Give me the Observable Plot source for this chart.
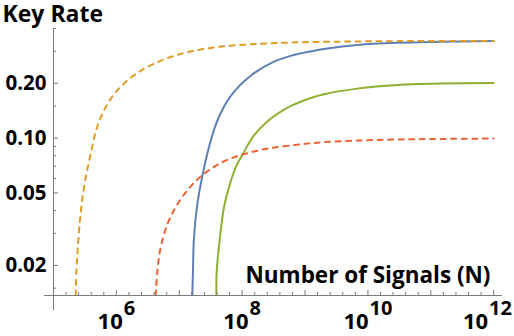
<!DOCTYPE html>
<html><head><meta charset="utf-8">
<script src="https://cdn.jsdelivr.net/npm/d3@7"></script>
<script src="https://cdn.jsdelivr.net/npm/@observablehq/plot@0.6"></script>
<style>body{margin:0;background:#fff}</style>
</head><body><div id="chart"></div>
<script>
// ---- data (log10 of number of signals, key rate) ----
const blueLogN   = [7.208, 7.218, 7.234, 7.288, 7.367, 7.472, 7.606, 7.817, 8.135, 8.506, 8.77, 8.93, 9.30, 9.83, 10.47, 11.16, 12.0];
const blueRate   = [0.0137, 0.0187, 0.0285, 0.0435, 0.0620, 0.089, 0.125, 0.170, 0.220, 0.263, 0.283, 0.292, 0.309, 0.325, 0.334, 0.338, 0.341];
const orangeLogN = [5.353, 5.364, 5.38, 5.42, 5.485, 5.591, 5.723, 5.962, 6.334, 6.863, 7.499, 8.294, 8.77, 9.6, 10.5, 12.0];
const orangeRate = [0.0137, 0.0187, 0.0231, 0.0352, 0.0537, 0.0818, 0.123, 0.174, 0.228, 0.279, 0.313, 0.330, 0.335, 0.339, 0.341, 0.342];
const greenLogN  = [7.59, 7.596, 7.647, 7.711, 7.790, 7.897, 8.003, 8.188, 8.40, 8.665, 8.77, 8.93, 9.30, 9.83, 10.47, 11.16, 12.0];
const greenRate  = [0.0137, 0.0187, 0.0285, 0.0417, 0.0537, 0.0691, 0.0810, 0.1035, 0.1235, 0.1435, 0.150, 0.1585, 0.174, 0.1870, 0.196, 0.1993, 0.201];
const redLogN    = [6.625, 6.652, 6.704, 6.811, 6.943, 7.102, 7.340, 7.658, 8.003, 8.40, 8.93, 9.30, 9.83, 10.47, 11.16, 12.0];
const redRate    = [0.0137, 0.0187, 0.0251, 0.0337, 0.0417, 0.0504, 0.0615, 0.0730, 0.0812, 0.0875, 0.0925, 0.0950, 0.0970, 0.0983, 0.0990, 0.0995];

const yMajorTicks = [0.02, 0.05, 0.1, 0.2];
const yMinorTicks = [0.015, 0.03, 0.04, 0.06, 0.07, 0.08, 0.09, 0.15, 0.3, 0.4];
const xMajorExponents = [6, 7, 8, 9, 10, 11, 12];
const xLabelExponents = [6, 8, 10, 12];
const xMinorSteps = [0.2, 0.4, 0.6, 0.8];

const yTitle = "Key Rate";
const xTitle = "Number of Signals (N)";

// ---- build ----
const W = 514, H = 336;
const axisColor = "#7a7a7a";
const font = "'Open Sans', Lato, sans-serif";
const yDomain = [0.01367, 0.4];
const xDomain = [1e5, 10 ** 12.14];

const series = [
  {name: "blue", logN: blueLogN, rate: blueRate, color: "#5E81B5", dash: null},
  {name: "green", logN: greenLogN, rate: greenRate, color: "#8FB032", dash: null},
  {name: "red", logN: redLogN, rate: redRate, color: "#EB6235", dash: "5,5.5"},
  {name: "orange", logN: orangeLogN, rate: orangeRate, color: "#E19C24", dash: "5,5.5"}
];

const xMajor = xMajorExponents.map(e => 10 ** e);
const xLabels = xLabelExponents.map(e => 10 ** e);
const xMinor = [];
for (let k = 5; k < 12; k++) for (const s of xMinorSteps) xMinor.push(10 ** (k + s));

const lineMarks = series.map(s =>
  Plot.line(s.logN.map((e, i) => ({N: 10 ** e, R: s.rate[i]})), {
    x: "N", y: "R", stroke: s.color, strokeWidth: 2,
    strokeDasharray: s.dash, curve: "catmull-rom", clip: true
  })
);

const svg = Plot.plot({
  width: W, height: H,
  marginLeft: 53, marginRight: 12, marginTop: 28, marginBottom: 41,
  style: {fontFamily: font, fontWeight: "bold", fontSize: "20px", background: "#fff", overflow: "visible"},
  x: {type: "log", domain: xDomain, label: null},
  y: {type: "log", domain: yDomain, label: null},
  marks: [
    ...lineMarks,
    Plot.ruleX([xDomain[0]], {stroke: axisColor, insetBottom: -15}),
    Plot.ruleY([yDomain[0]], {stroke: axisColor, insetLeft: -9}),
    Plot.axisY({ticks: yMajorTicks, tickSize: 5, dx: 5, fill: "none", stroke: axisColor, label: null}),
    Plot.axisY({ticks: yMinorTicks, tickSize: 3, dx: 3, fill: "none", stroke: axisColor, label: null}),
    Plot.axisY({ticks: yMajorTicks, tickSize: 0, tickPadding: 7, tickFormat: d3.format(".2f"),
      fill: "black", label: null, fontSize: 20.5, fontWeight: "bold"}),
    Plot.axisX({ticks: xMajor, tickSize: 5, dy: -5, fill: "none", stroke: axisColor, label: null}),
    Plot.axisX({ticks: xMinor, tickSize: 3, dy: -3, fill: "none", stroke: axisColor, label: null}),
    Plot.axisX({ticks: xLabels, tickSize: 0, tickPadding: 18,
      tickFormat: d => "10^" + Math.round(Math.log10(d)),
      fill: "black", label: null, fontSize: 22, fontWeight: "bold"}),
    Plot.text([yTitle], {frameAnchor: "top-left", dx: -51, dy: -7, textAnchor: "start",
      lineAnchor: "bottom", fontSize: 23, fontWeight: "bold", fill: "black"}),
    Plot.text([xTitle], {frameAnchor: "bottom-right", dx: -12, dy: -13, textAnchor: "end",
      lineAnchor: "bottom", fontSize: 22.5, fontWeight: "bold", fill: "black"})
  ]
});
document.getElementById("chart").appendChild(svg);

// superscript exponents for the x tick labels
svg.querySelectorAll('g[aria-label="x-axis tick label"] text').forEach(t => {
  const s = t.textContent;
  if (!s.includes("^")) return;
  const [base, exp] = s.split("^");
  t.textContent = base;
  const ts = document.createElementNS("http://www.w3.org/2000/svg", "tspan");
  ts.setAttribute("dy", "-14");
  ts.setAttribute("dx", "1");
  ts.setAttribute("font-size", "20");
  ts.textContent = exp;
  t.appendChild(ts);
  const bb = t.getBBox();
  const ctm = t.getCTM();
  const right = bb.x + bb.width + (ctm ? ctm.e : 0);
  if (right > W - 2) {
    const shift = right - (W - 2);
    const cur = t.getAttribute("transform") || "";
    t.setAttribute("transform", cur + ` translate(${-shift},0)`);
  }
});
</script>
</body></html>
